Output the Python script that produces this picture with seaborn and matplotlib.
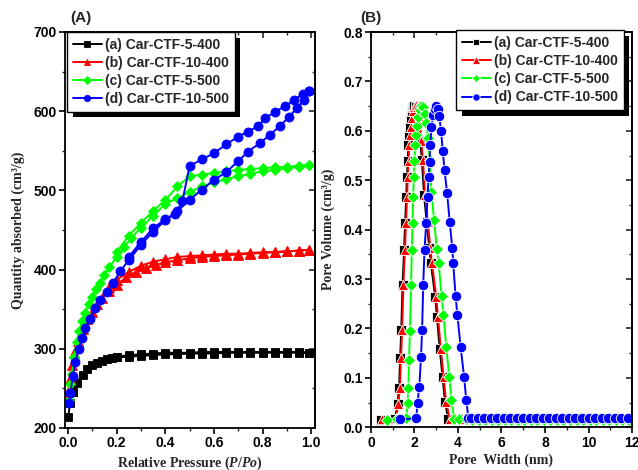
import matplotlib
matplotlib.use('Agg')
import matplotlib.pyplot as plt
import matplotlib.patheffects as pe
from matplotlib.ticker import MultipleLocator, FormatStrFormatter
import seaborn as sns

# ---- (A) N2 isotherms: adsorption branch then desorption branch ----
A_ADS_P = [0.001, 0.008, 0.02, 0.035, 0.06, 0.08, 0.1, 0.12, 0.14, 0.16, 0.18, 0.2,
           0.25, 0.3, 0.35, 0.4, 0.45, 0.5, 0.55, 0.6, 0.65, 0.7, 0.75, 0.8, 0.85,
           0.9, 0.95, 0.99]
A_ADS_Q = [214, 231, 245, 257, 267, 274, 279, 282, 285, 287, 288, 289,
           290, 291, 292, 293, 293, 294, 294, 294, 295, 295, 295, 295, 295,
           295, 295, 295]
A_DES_P = [0.99, 0.95, 0.9, 0.85, 0.8, 0.75, 0.7, 0.65, 0.6, 0.55, 0.5, 0.45,
           0.4, 0.35, 0.3, 0.25, 0.2]
A_DES_Q = [295, 296, 296, 296, 296, 296, 296, 296, 296, 296, 295, 295,
           295, 294, 293, 292, 290]

B_ADS_P = [0.002, 0.008, 0.015, 0.025, 0.04, 0.06, 0.08, 0.1, 0.12, 0.14, 0.17,
           0.2, 0.24, 0.28, 0.32, 0.36, 0.4, 0.45, 0.5, 0.55, 0.6, 0.65, 0.7,
           0.75, 0.8, 0.85, 0.9, 0.95, 0.99]
B_ADS_Q = [245, 262, 280, 295, 310, 325, 337, 347, 356, 364, 373,
           381, 390, 397, 402, 406, 409, 412, 414, 416, 417, 418, 419,
           420, 421, 422, 423, 424, 425]
B_DES_P = [0.99, 0.95, 0.9, 0.85, 0.8, 0.75, 0.7, 0.65, 0.6, 0.55, 0.5, 0.45,
           0.4, 0.35, 0.3, 0.25, 0.2, 0.17]
B_DES_Q = [425, 424, 423, 422, 422, 421, 420, 420, 419, 418, 417, 416,
           413, 410, 405, 397, 387, 378]

C_ADS_P = [0.005, 0.01, 0.016, 0.025, 0.035, 0.045, 0.058, 0.07, 0.085, 0.1,
           0.115, 0.13, 0.15, 0.17, 0.2, 0.23, 0.26, 0.3, 0.35, 0.4, 0.45, 0.5,
           0.55, 0.6, 0.65, 0.7, 0.75, 0.8, 0.85, 0.9, 0.95, 0.99]
C_ADS_Q = [235, 255, 268, 290, 308, 322, 335, 345, 356, 366,
           375, 383, 393, 403, 416, 428, 440, 453, 468, 483, 490, 498,
           505, 510, 514, 518, 521, 524, 526, 528, 530, 532]
C_DES_P = [0.99, 0.95, 0.9, 0.85, 0.8, 0.75, 0.7, 0.65, 0.6, 0.55, 0.5, 0.45,
           0.4, 0.35, 0.3, 0.25, 0.2]
C_DES_Q = [532, 531, 530, 529, 528, 527, 526, 524, 522, 520, 518, 505,
           488, 474, 459, 443, 422]

D_ADS_P = [0.005, 0.01, 0.02, 0.03, 0.044, 0.058, 0.071, 0.092, 0.112, 0.132,
           0.16, 0.185, 0.215, 0.25, 0.3, 0.35, 0.4, 0.45, 0.5, 0.55, 0.6, 0.65,
           0.7, 0.74, 0.79, 0.83, 0.87, 0.91, 0.94, 0.97, 0.99]
D_ADS_Q = [232, 244, 266, 283, 300, 313, 326, 338, 351, 362,
           372, 383, 398, 412, 431, 448, 462, 474, 488, 501, 513, 523,
           537, 549, 560, 570, 581, 593, 604, 614, 626]
D_DES_P = [0.99, 0.965, 0.93, 0.89, 0.85, 0.81, 0.78, 0.74, 0.7, 0.65, 0.6,
           0.55, 0.5, 0.47, 0.44, 0.4, 0.35, 0.3, 0.25]
D_DES_Q = [626, 622, 614, 606, 599, 591, 581, 574, 568, 558, 547,
           539, 531, 486, 470, 464, 452, 435, 416]

# ---- (B) pore size distribution ----
PSD_A_X = [0.45, 0.75, 1.1, 1.22, 1.29, 1.34, 1.39, 1.45, 1.52, 1.57, 1.62, 1.65,
           1.69, 1.72, 1.76, 1.80, 1.85, 1.90, 1.95, 2.00, 2.06, 2.17, 2.26, 2.34,
           2.44, 2.56, 2.68, 2.75, 2.95, 3.03, 3.16, 3.29, 3.40, 3.55, 3.85, 4.15, 4.45]
PSD_A_Y = [0.015, 0.015, 0.017, 0.048, 0.080, 0.140, 0.197, 0.287, 0.358, 0.414, 0.467, 0.507,
           0.538, 0.572, 0.592, 0.607, 0.626, 0.640, 0.649, 0.651, 0.648, 0.629, 0.580, 0.540,
           0.470, 0.415, 0.363, 0.333, 0.264, 0.224, 0.158, 0.102, 0.052, 0.017, 0.016, 0.017, 0.016]
PSD_B_X = [0.5, 0.85, 1.15, 1.26, 1.33, 1.38, 1.43, 1.49, 1.56, 1.61, 1.66, 1.69,
           1.73, 1.76, 1.80, 1.85, 1.90, 1.95, 2.00, 2.05, 2.11, 2.22, 2.31, 2.39,
           2.49, 2.61, 2.73, 2.80, 3.00, 3.08, 3.21, 3.34, 3.45, 3.62, 3.92, 4.22, 4.52]
PSD_B_Y = [0.016, 0.016, 0.018, 0.048, 0.080, 0.140, 0.197, 0.287, 0.358, 0.414, 0.467, 0.507,
           0.538, 0.572, 0.592, 0.607, 0.626, 0.640, 0.649, 0.653, 0.648, 0.629, 0.580, 0.540,
           0.470, 0.415, 0.363, 0.333, 0.264, 0.224, 0.158, 0.102, 0.052, 0.017, 0.018, 0.017, 0.018]
PSD_C_X = [0.75, 1.2, 1.62, 1.68, 1.72, 1.75, 1.79, 1.84, 1.88, 1.91, 1.94, 1.97,
           2.00, 2.03, 2.07, 2.12, 2.18, 2.25, 2.32, 2.40, 2.48, 2.55, 2.62, 2.70,
           2.78, 2.90, 3.03, 3.11, 3.25, 3.33, 3.46, 3.60, 3.70, 3.82, 4.05, 4.35]
PSD_C_Y = [0.015, 0.016, 0.018, 0.049, 0.080, 0.137, 0.195, 0.287, 0.359, 0.414, 0.467, 0.507,
           0.538, 0.572, 0.592, 0.610, 0.628, 0.643, 0.650, 0.648, 0.635, 0.615, 0.585, 0.540,
           0.476, 0.420, 0.360, 0.332, 0.265, 0.228, 0.163, 0.102, 0.055, 0.017, 0.016, 0.017]
PSD_D_X = [1.35, 2.08, 2.14, 2.22, 2.30, 2.35, 2.40, 2.46, 2.54, 2.60, 2.65, 2.69,
           2.73, 2.78, 2.86, 2.93, 3.00, 3.07, 3.14, 3.22, 3.30, 3.38, 3.50, 3.62,
           3.74, 3.78, 3.89, 3.97, 4.12, 4.28, 4.38, 4.48, 4.62]
PSD_D_Y = [0.016, 0.018, 0.049, 0.082, 0.142, 0.197, 0.288, 0.359, 0.414, 0.467, 0.507, 0.536,
           0.572, 0.607, 0.632, 0.645, 0.650, 0.645, 0.629, 0.600, 0.560, 0.520, 0.474, 0.415,
           0.362, 0.332, 0.265, 0.228, 0.163, 0.102, 0.055, 0.018, 0.018]

# flat tails out to 12 nm
BASE_A_X = [4.75, 5.05, 5.35, 5.65, 5.95, 6.25, 6.55, 6.85, 7.15, 7.45, 7.75, 8.05, 8.35,
            8.65, 8.95, 9.25, 9.55, 9.85, 10.15, 10.45, 10.75, 11.05, 11.35, 11.65, 11.95]
BASE_B_X = [4.83, 5.13, 5.43, 5.73, 6.03, 6.33, 6.63, 6.93, 7.23, 7.53, 7.83, 8.13, 8.43,
            8.73, 9.03, 9.33, 9.63, 9.93, 10.23, 10.53, 10.83, 11.13, 11.43, 11.73, 12.0]
BASE_C_X = [4.65, 4.95, 5.25, 5.55, 5.85, 6.15, 6.45, 6.75, 7.05, 7.35, 7.65, 7.95, 8.25,
            8.55, 8.85, 9.15, 9.45, 9.75, 10.05, 10.35, 10.65, 10.95, 11.25, 11.55, 11.85]
BASE_D_X = [4.9, 5.2, 5.5, 5.8, 6.1, 6.4, 6.7, 7.0, 7.3, 7.6, 7.9, 8.2, 8.5,
            8.8, 9.1, 9.4, 9.7, 10.0, 10.3, 10.6, 10.9, 11.2, 11.5, 11.8]
BASE_Y = {'a': 0.016, 'b': 0.018, 'c': 0.015, 'd': 0.018}

LABELS = ['(a) Car-CTF-5-400', '(b) Car-CTF-10-400', '(c) Car-CTF-5-500', '(d) Car-CTF-10-500']
COLORS = ['#000000', '#ff0000', '#00ff00', '#0000ff']
MARKERS = ['s', '^', 'D', 'o']
MSIZES = [5.5, 6.5, 5.5, 6.5]

sns.set_style('ticks')
plt.rcParams['font.family'] = ['Liberation Sans', 'DejaVu Sans']
plt.rcParams['font.weight'] = 'bold'
plt.rcParams['mathtext.fontset'] = 'custom'
plt.rcParams['mathtext.rm'] = 'Liberation Serif:bold'
plt.rcParams['mathtext.it'] = 'Liberation Serif:italic:bold'

LABEL_FONT = dict(family='Liberation Serif', weight='bold', size=10)


def style_axes(ax, xmaj, xmin, ymaj, ymin):
    for sp in ax.spines.values():
        sp.set_visible(True)
        sp.set_linewidth(1.3)
        sp.set_color('black')
    ax.xaxis.set_major_locator(MultipleLocator(xmaj))
    ax.xaxis.set_minor_locator(MultipleLocator(xmin))
    ax.yaxis.set_major_locator(MultipleLocator(ymaj))
    ax.yaxis.set_minor_locator(MultipleLocator(ymin))
    ax.tick_params(which='major', direction='out', length=4, width=1.2,
                   labelsize=10, colors='black', pad=2)
    ax.tick_params(which='minor', direction='out', length=2.5, width=1.0)
    # right / top: inward ticks, no labels
    sec_y = ax.secondary_yaxis('right')
    sec_y.yaxis.set_major_locator(MultipleLocator(ymaj))
    sec_y.yaxis.set_minor_locator(MultipleLocator(ymin))
    sec_x = ax.secondary_xaxis('top')
    sec_x.xaxis.set_major_locator(MultipleLocator(xmaj))
    sec_x.xaxis.set_minor_locator(MultipleLocator(xmin))
    for sec in (sec_y, sec_x):
        sec.tick_params(which='major', direction='in', length=4, width=1.2,
                        labelright=False, labeltop=False)
        sec.tick_params(which='minor', direction='in', length=2.5, width=1.0)
        for sp in sec.spines.values():
            sp.set_linewidth(1.3)


def add_legend(ax, loc, anchor):
    leg = ax.legend(loc=loc, bbox_to_anchor=anchor, borderaxespad=0,
                    fancybox=False, framealpha=1, edgecolor='black',
                    prop=dict(family='Liberation Sans', weight='bold', size=10),
                    labelspacing=0.3, handlelength=2.1, handletextpad=0.25,
                    borderpad=0.4, markerscale=0.7)
    frame = leg.get_frame()
    frame.set_linewidth(1.0)
    frame.set_path_effects([pe.SimplePatchShadow(offset=(4, -4), shadow_rgbFace='black',
                                                 alpha=1.0), pe.Normal()])
    return leg


fig = plt.figure(figsize=(6.38, 4.70), dpi=100)
ax1 = fig.add_axes([0.102, 0.0894, 0.392, 0.8426])
ax2 = fig.add_axes([0.5815, 0.0909, 0.4091, 0.841])

iso = [(A_ADS_P + A_DES_P, A_ADS_Q + A_DES_Q),
       (B_ADS_P + B_DES_P, B_ADS_Q + B_DES_Q),
       (C_ADS_P + C_DES_P, C_ADS_Q + C_DES_Q),
       (D_ADS_P + D_DES_P, D_ADS_Q + D_DES_Q)]
for (px, qy), lab, col, mk, ms in zip(iso, LABELS, COLORS, MARKERS, MSIZES):
    sns.lineplot(x=px, y=qy, sort=False, estimator=None, ax=ax1, label=lab,
                 color=col, marker=mk, markersize=ms, markeredgecolor=col,
                 markeredgewidth=0.6, linewidth=1.4)

ax1.set_xlim(-0.012, 1.016)
ax1.set_ylim(200, 700)
style_axes(ax1, 0.2, 0.1, 100, 50)
ax1.xaxis.set_major_formatter(FormatStrFormatter('%.1f'))
ax1.set_xlabel(r'Relative Pressure ($\mathit{P/Po}$)', fontdict=LABEL_FONT, labelpad=3)
ax1.set_ylabel('Quantity absorbed (cm³/g)', fontdict=LABEL_FONT, labelpad=6)
add_legend(ax1, 'upper left', (0.008, 1.0))

psd = [(PSD_A_X + BASE_A_X, PSD_A_Y + [BASE_Y['a']] * len(BASE_A_X)),
       (PSD_B_X + BASE_B_X, PSD_B_Y + [BASE_Y['b']] * len(BASE_B_X)),
       (PSD_C_X + BASE_C_X, PSD_C_Y + [BASE_Y['c']] * len(BASE_C_X)),
       (PSD_D_X + BASE_D_X, PSD_D_Y + [BASE_Y['d']] * len(BASE_D_X))]
for (wx, vy), lab, col, mk, ms in zip(psd, LABELS, COLORS, MARKERS, MSIZES):
    sns.lineplot(x=wx, y=vy, sort=False, estimator=None, ax=ax2, label=lab,
                 color=col, marker=mk, markersize=ms + 1, markeredgecolor='white',
                 markeredgewidth=0.6, linewidth=1.4)

ax2.set_xlim(0, 12)
ax2.set_ylim(0, 0.8)
style_axes(ax2, 2, 1, 0.1, 0.05)
ax2.yaxis.set_major_formatter(FormatStrFormatter('%.1f'))
ax2.set_xlabel('Pore  Width (nm)', fontdict=LABEL_FONT, labelpad=3)
ax2.set_ylabel('Pore Volume (cm³/g)', fontdict=LABEL_FONT, labelpad=6)
add_legend(ax2, 'upper right', (0.969, 1.004))

fig.text(0.110, 0.961, '(A)', fontsize=11, weight='bold', ha='left', va='center')
fig.text(0.564, 0.961, '(B)', fontsize=11, weight='bold', ha='left', va='center')

fig.savefig('out.png', dpi=100)
